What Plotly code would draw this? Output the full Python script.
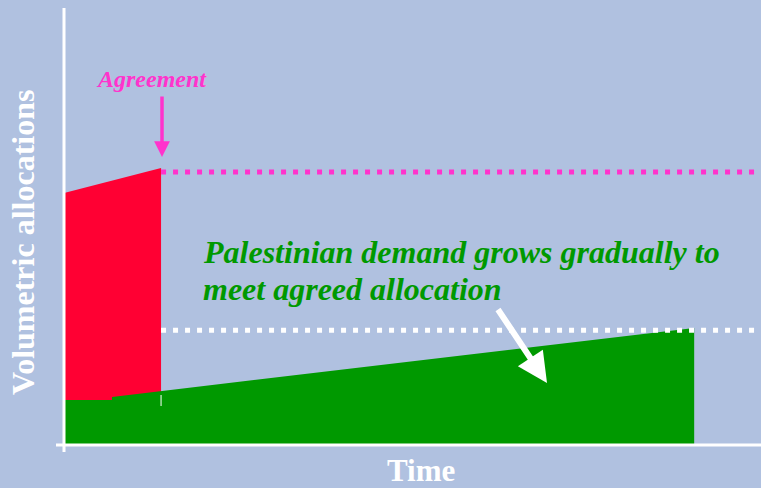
import plotly.graph_objects as go

# ---- data (arbitrary units: time 0..100, volume 0..100) ----
red_time = [0, 0, 13.8, 13.8]
red_volume = [0, 57.6, 63.3, 0]

green_time = [0, 0, 6.75, 6.75, 90.4, 90.4]
green_volume = [0, 10.1, 10.1, 10.8, 26.6, 0]

agreed_line_time = [13.8, 100]
agreed_line_volume = [62.4, 62.4]

target_line_time = [13.8, 100]
target_line_volume = [26.1, 26.1]

BG = "#B0C1E0"
PINK = "#FF33CC"
RED = "#FF0033"
GREEN = "#009900"
FONT = "Liberation Serif"

W, H = 761, 488
ML, MR, MT, MB = 65, 0, 8, 44
PW, PH = W - ML - MR, H - MT - MB


def px(x):
    return (x - ML) / PW


def py(y):
    return (H - MB - y) / PH


fig = go.Figure()
fig.add_trace(go.Scatter(x=red_time, y=red_volume, fill="toself", fillcolor=RED,
                         mode="lines", line=dict(width=0, color=RED), hoverinfo="skip"))
fig.add_trace(go.Scatter(x=green_time, y=green_volume, fill="toself", fillcolor=GREEN,
                         mode="lines", line=dict(width=0, color=GREEN), hoverinfo="skip"))
fig.add_trace(go.Scatter(x=agreed_line_time, y=agreed_line_volume, mode="lines",
                         line=dict(color=PINK, width=5, dash="5px,7px"), hoverinfo="skip"))
fig.add_trace(go.Scatter(x=target_line_time, y=target_line_volume, mode="lines",
                         line=dict(color="white", width=5, dash="5px,7px"), hoverinfo="skip"))

shapes = [
    # y axis line
    dict(type="line", xref="paper", yref="paper", x0=px(64), x1=px(64), y0=py(8), y1=py(452),
         line=dict(color="white", width=3)),
    # x axis line
    dict(type="line", xref="paper", yref="paper", x0=px(56), x1=1, y0=py(445), y1=py(445),
         line=dict(color="white", width=3)),
    # small white tick
    dict(type="line", xref="x", yref="paper", x0=13.8, x1=13.8, y0=py(395), y1=py(406),
         line=dict(color="white", width=1)),
]

annotations = [
    dict(text="<b>Volumetric allocations</b>", xref="paper", yref="paper", x=px(23), y=py(243),
         textangle=-90, showarrow=False, font=dict(family=FONT, size=32, color="white"),
         xanchor="center", yanchor="middle"),
    dict(text="<b>Time</b>", xref="paper", yref="paper", x=px(421), y=py(470),
         showarrow=False, font=dict(family=FONT, size=31, color="white"),
         xanchor="center", yanchor="middle"),
    dict(text="<b><i>Agreement</i></b>", xref="paper", yref="paper", x=px(151), y=py(79),
         showarrow=False, font=dict(family=FONT, size=24, color=PINK),
         xanchor="center", yanchor="middle"),
    dict(text="<b><i>Palestinian demand grows gradually to</i></b>", xref="paper", yref="paper",
         x=px(201), y=py(252), showarrow=False, font=dict(family=FONT, size=32, color=GREEN),
         xanchor="left", yanchor="middle"),
    dict(text="<b><i>meet agreed allocation</i></b>", xref="paper", yref="paper",
         x=px(201), y=py(289), showarrow=False, font=dict(family=FONT, size=32, color=GREEN),
         xanchor="left", yanchor="middle"),
    # pink arrow
    dict(text="", xref="paper", yref="paper", x=px(162), y=py(157), ax=0, ay=-62,
         showarrow=True, arrowhead=2, arrowsize=0.9, arrowwidth=3.5, arrowcolor=PINK),
    # white arrow
    dict(text="", xref="paper", yref="paper", x=px(547), y=py(383), ax=-50, ay=-75,
         showarrow=True, arrowhead=2, arrowsize=1, arrowwidth=6, arrowcolor="white"),
]

fig.update_layout(
    width=W, height=H,
    margin=dict(l=ML, r=MR, t=MT, b=MB),
    paper_bgcolor=BG, plot_bgcolor=BG,
    showlegend=False,
    xaxis=dict(range=[0, 100], visible=False, fixedrange=True),
    yaxis=dict(range=[0, 100], visible=False, fixedrange=True),
    shapes=shapes,
    annotations=annotations,
)

fig.write_html("out.html",
               config={"displayModeBar": False, "staticPlot": True},
               post_script="document.body.style.margin='0px';document.body.style.overflow='hidden';")
